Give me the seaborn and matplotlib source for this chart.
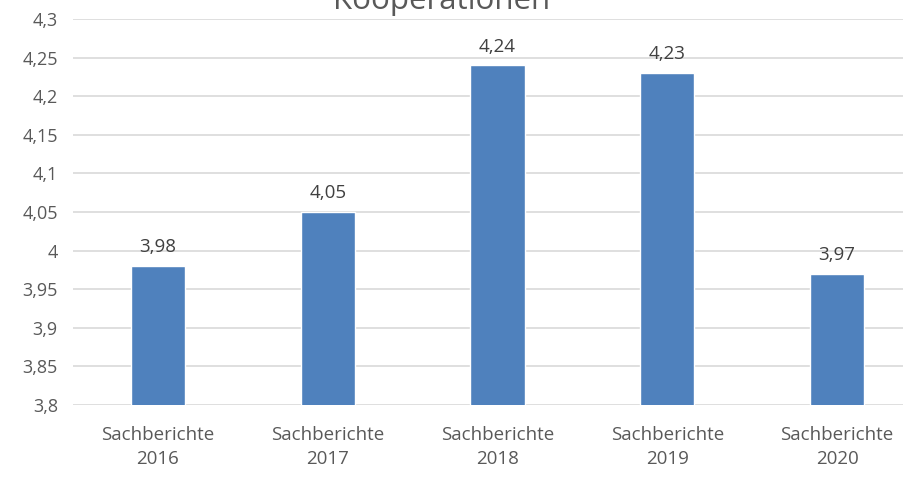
import matplotlib
matplotlib.use("Agg")
import matplotlib.pyplot as plt
import seaborn as sns
import pandas as pd

categories = ["Sachberichte\n2016", "Sachberichte\n2017", "Sachberichte\n2018",
              "Sachberichte\n2019", "Sachberichte\n2020"]
values = [3.98, 4.05, 4.24, 4.23, 3.97]
y_ticks = [3.8, 3.85, 3.9, 3.95, 4.0, 4.05, 4.1, 4.15, 4.2, 4.25, 4.3]
title = "Kooperationen"

sns.set_theme(style="white")
plt.rcParams["font.family"] = ["Open Sans", "DejaVu Sans"]

text_color = "#595959"
bar_color = "#4F81BD"

df = pd.DataFrame({"cat": categories, "val": values})

fig = plt.figure(figsize=(9.04, 4.79), dpi=100)
ax = fig.add_axes([0.0808, 0.1545, 0.939, 0.806])

sns.barplot(data=df, x="cat", y="val", color=bar_color, width=0.32,
            saturation=1, ax=ax, zorder=3)

ax.set_ylim(3.8, 4.3)
ax.set_xlim(-0.5, 4.5)
ax.set_yticks(y_ticks)
ax.set_yticklabels([f"{t:g}".replace(".", ",") for t in y_ticks],
                   fontsize=13, color=text_color)
ax.set_xticks(range(len(categories)))
ax.set_xticklabels(categories, fontsize=13.5, color=text_color, linespacing=1.45)
ax.tick_params(axis="both", length=0)
ax.tick_params(axis="x", pad=15)
ax.tick_params(axis="y", pad=11)
ax.set_xlabel("")
ax.set_ylabel("")

ax.yaxis.grid(True, color="#D9D9D9", linewidth=1.2, zorder=0)
ax.set_axisbelow(True)
for s in ax.spines.values():
    s.set_visible(False)

for i, v in enumerate(values):
    ax.annotate(f"{v:.2f}".replace(".", ","), (i, v), xytext=(0, 7),
                textcoords="offset points", ha="center", va="bottom",
                fontsize=13.5, color="#404040")

fig.text(442 / 904, 1.0 - 9 / 479, title, ha="center", va="baseline",
         fontsize=22.5, color=text_color)

fig.savefig("out.png", dpi=100)
